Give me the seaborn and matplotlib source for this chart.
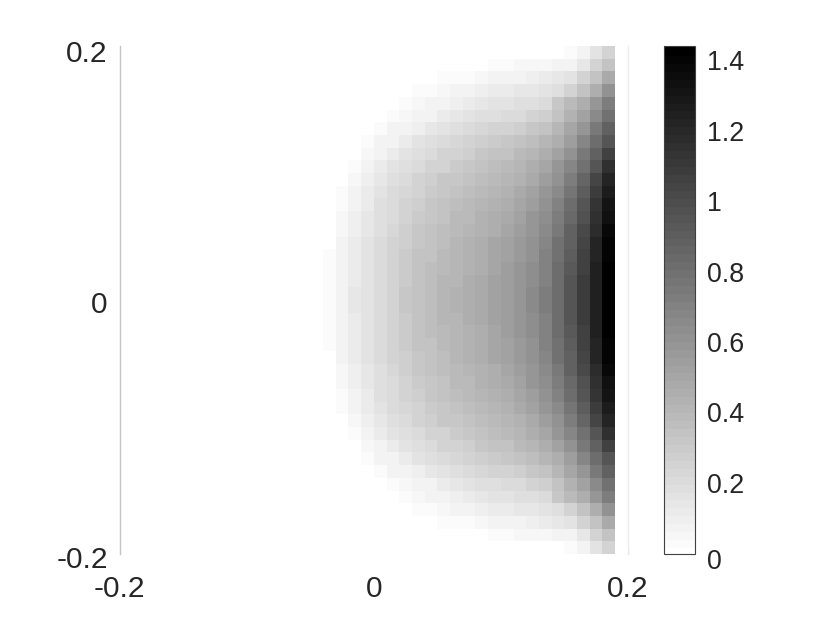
import numpy as np
import pandas as pd
import matplotlib
matplotlib.use("Agg")
import matplotlib.pyplot as plt
from matplotlib.colors import ListedColormap
from matplotlib.transforms import ScaledTranslation
import seaborn as sns

visible_columns = list(range(16, 39))
n_cells = 40
vmax = 1.444
n_levels = 64

cell_values = [
 [0,0,0,0,0,0,0,0,0,0,0,0,0,0,0,0,0,0,0,.03,.08,.16,.26],
 [0,0,0,0,0,0,0,0,0,0,0,0,0,.03,.04,.05,.05,.06,.07,.09,.14,.25,.36],
 [0,0,0,0,0,0,0,0,0,.03,.03,.04,.06,.07,.08,.09,.10,.12,.14,.18,.25,.36,.48],
 [0,0,0,0,0,0,0,.03,.04,.06,.07,.09,.10,.12,.13,.14,.15,.18,.20,.26,.35,.47,.61],
 [0,0,0,0,0,0,.03,.05,.07,.09,.11,.13,.15,.17,.18,.19,.20,.22,.32,.40,.47,.59,.73],
 [0,0,0,0,0,.03,.06,.08,.09,.12,.14,.17,.19,.20,.21,.22,.26,.29,.34,.45,.53,.66,.81],
 [0,0,0,0,.03,.07,.09,.11,.14,.18,.20,.22,.24,.25,.26,.29,.32,.35,.41,.50,.60,.75,.90],
 [0,0,0,.03,.07,.09,.12,.18,.20,.22,.24,.26,.28,.30,.32,.34,.37,.42,.47,.56,.69,.83,.97],
 [0,0,.02,.06,.09,.12,.18,.20,.22,.25,.26,.29,.32,.34,.35,.39,.42,.47,.53,.63,.75,.90,1.07],
 [0,0,.04,.08,.12,.18,.20,.22,.25,.27,.30,.32,.34,.37,.40,.42,.46,.51,.59,.69,.80,.97,1.16],
 [0,.02,.06,.10,.15,.20,.22,.25,.28,.32,.33,.35,.37,.40,.42,.45,.49,.56,.63,.73,.86,1.04,1.23],
 [0,.03,.08,.12,.18,.21,.24,.27,.30,.33,.35,.37,.40,.42,.45,.48,.53,.59,.67,.77,.92,1.10,1.28],
 [0,.04,.09,.13,.19,.22,.25,.29,.32,.34,.37,.39,.42,.45,.46,.51,.56,.62,.71,.82,.95,1.13,1.31],
 [0,.05,.10,.14,.20,.22,.26,.30,.33,.36,.39,.40,.44,.46,.48,.53,.59,.65,.73,.84,.99,1.16,1.35],
 [.02,.06,.11,.15,.20,.24,.28,.32,.34,.37,.40,.42,.45,.47,.50,.56,.60,.67,.76,.88,1.02,1.19,1.38],
 [.02,.07,.12,.17,.21,.25,.29,.33,.35,.38,.41,.44,.46,.50,.53,.57,.62,.69,.79,.90,1.06,1.23,1.40],
 [.03,.08,.13,.17,.22,.26,.30,.34,.36,.40,.42,.45,.47,.50,.54,.58,.63,.71,.80,.92,1.07,1.24,1.42],
 [.03,.09,.13,.18,.22,.26,.31,.34,.37,.40,.42,.45,.47,.51,.55,.59,.64,.72,.82,.93,1.08,1.26,1.44],
 [.03,.09,.13,.18,.22,.26,.31,.35,.37,.41,.42,.46,.48,.52,.56,.60,.65,.72,.82,.95,1.10,1.26,1.44],
 [.03,.09,.14,.18,.22,.26,.32,.35,.38,.41,.44,.46,.49,.53,.56,.60,.66,.73,.83,.95,1.10,1.26,1.44],
 [.03,.09,.14,.18,.22,.26,.32,.35,.38,.41,.44,.46,.49,.53,.56,.60,.66,.73,.83,.95,1.10,1.26,1.44],
 [.03,.09,.13,.18,.22,.26,.31,.35,.37,.41,.42,.46,.48,.52,.56,.60,.65,.72,.82,.95,1.10,1.26,1.44],
 [.03,.09,.13,.18,.22,.26,.31,.34,.37,.40,.42,.45,.47,.51,.55,.59,.64,.72,.82,.93,1.08,1.26,1.44],
 [.03,.08,.13,.17,.22,.26,.30,.34,.36,.40,.42,.45,.47,.50,.54,.58,.63,.71,.80,.92,1.07,1.24,1.42],
 [.02,.07,.12,.17,.21,.25,.29,.33,.35,.38,.41,.44,.46,.50,.53,.57,.62,.69,.79,.90,1.06,1.23,1.40],
 [.02,.06,.11,.15,.20,.24,.28,.32,.34,.37,.40,.42,.45,.47,.50,.56,.60,.67,.76,.88,1.02,1.19,1.38],
 [0,.05,.10,.14,.20,.22,.26,.30,.33,.36,.39,.40,.44,.46,.48,.53,.59,.65,.73,.84,.99,1.16,1.35],
 [0,.04,.09,.13,.19,.22,.25,.29,.32,.34,.37,.39,.42,.45,.46,.51,.56,.62,.71,.82,.95,1.13,1.31],
 [0,.03,.08,.12,.18,.21,.24,.27,.30,.33,.35,.37,.40,.42,.45,.48,.53,.59,.67,.77,.92,1.10,1.28],
 [0,.02,.06,.10,.15,.20,.22,.25,.28,.32,.33,.35,.37,.40,.42,.45,.49,.56,.63,.73,.86,1.04,1.23],
 [0,0,.04,.08,.12,.18,.20,.22,.25,.27,.30,.32,.34,.37,.40,.42,.46,.51,.59,.69,.80,.97,1.16],
 [0,0,.02,.06,.09,.12,.18,.20,.22,.25,.26,.29,.32,.34,.35,.39,.42,.47,.53,.63,.75,.90,1.07],
 [0,0,0,.03,.07,.09,.12,.18,.20,.22,.24,.26,.28,.30,.32,.34,.37,.42,.47,.56,.69,.83,.97],
 [0,0,0,0,.03,.07,.09,.11,.14,.18,.20,.22,.24,.25,.26,.29,.32,.35,.41,.50,.60,.75,.90],
 [0,0,0,0,0,.03,.06,.08,.09,.12,.14,.17,.19,.20,.21,.22,.26,.29,.34,.45,.53,.66,.81],
 [0,0,0,0,0,0,.03,.05,.07,.09,.11,.13,.15,.17,.18,.19,.20,.22,.32,.40,.47,.59,.73],
 [0,0,0,0,0,0,0,.03,.04,.06,.07,.09,.10,.12,.13,.14,.15,.18,.20,.26,.35,.47,.61],
 [0,0,0,0,0,0,0,0,0,.03,.03,.04,.06,.07,.08,.09,.10,.12,.14,.18,.25,.36,.48],
 [0,0,0,0,0,0,0,0,0,0,0,0,0,.03,.04,.05,.05,.06,.07,.09,.14,.25,.36],
 [0,0,0,0,0,0,0,0,0,0,0,0,0,0,0,0,0,0,0,.03,.08,.16,.26],
]

axis_ticklabels = ["-0.2", "0", "0.2"]
y_ticklabels = ["0.2", "0", "-0.2"]
cbar_ticks = [0, 0.2, 0.4, 0.6, 0.8, 1, 1.2, 1.4]
cbar_ticklabels = ["0", "0.2", "0.4", "0.6", "0.8", "1", "1.2", "1.4"]

sns.set_theme(style="white")
plt.rcParams["font.family"] = ["Liberation Sans", "DejaVu Sans"]
TEXT = "#262626"
FS = 21.5
FS_CBAR = 19.3

W, H = 830, 623
fig = plt.figure(figsize=(W / 100, H / 100), dpi=100)
ax = fig.add_axes([119.8 / W, 1 - 554 / H, 508 / W, 508 / H])
cax = fig.add_axes([664 / W, 1 - 554 / H, 31 / W, 508 / H])

frame = pd.DataFrame(cell_values, columns=visible_columns).reindex(
    columns=range(n_cells), fill_value=0.0)
cmap = ListedColormap(plt.get_cmap("gray_r")(np.linspace(0, 1, n_levels)))
sns.heatmap(frame, ax=ax, cbar_ax=cax, cmap=cmap, vmin=0, vmax=vmax,
            xticklabels=False, yticklabels=False, square=False,
            cbar_kws={"ticks": cbar_ticks}, linewidths=0, rasterized=True)


def shift(label, dx_px, dy_px):
    label.set_transform(label.get_transform()
                        + ScaledTranslation(dx_px / 100, dy_px / 100, fig.dpi_scale_trans))


ax.set_xlabel("")
ax.set_ylabel("")
ax.set_xticks([0, n_cells / 2, n_cells])
ax.set_xticklabels(axis_ticklabels, fontsize=FS, color=TEXT)
ax.set_yticks([0, n_cells / 2, n_cells])
ax.set_yticklabels(y_ticklabels, fontsize=FS, color=TEXT)
ax.set_axisbelow(True)
ax.tick_params(axis="x", direction="in", length=3.6, width=0.8,
               color="#555555", pad=15, bottom=True)
ax.tick_params(axis="y", pad=2.7, left=False)
x_ticks = ax.xaxis.get_major_ticks()
x_ticks[0].tick1line.set_visible(False)
x_ticks[1].tick1line.set_visible(False)
for side in ["top", "bottom"]:
    ax.spines[side].set_visible(False)
ax.spines["left"].set_visible(True)
ax.spines["left"].set_color("#c4c4c4")
ax.spines["left"].set_linewidth(1.0)
ax.spines["right"].set_visible(True)
ax.spines["right"].set_color("#ececec")
ax.spines["right"].set_linewidth(1.0)
y_labels = ax.get_yticklabels()
shift(y_labels[0], 0, -5.5)
shift(y_labels[1], 0, -2)
shift(y_labels[2], 0, -3.5)

cbar = ax.collections[0].colorbar
cbar.set_ticklabels(cbar_ticklabels)
cbar.solids.set_edgecolor("face")
cbar.outline.set_visible(True)
cbar.outline.set_edgecolor("#404040")
cbar.outline.set_linewidth(0.8)
cax.tick_params(axis="y", direction="in", length=3.6, width=0.8, color="#404040",
                labelsize=FS_CBAR, labelcolor=TEXT, pad=8.5, right=True, left=False)
cbar_labels = cax.get_yticklabels()
for lab in cbar_labels[1:]:
    shift(lab, 0, 1)
shift(cbar_labels[0], 0, -5)

fig.savefig("out.png", dpi=100, facecolor="white")
